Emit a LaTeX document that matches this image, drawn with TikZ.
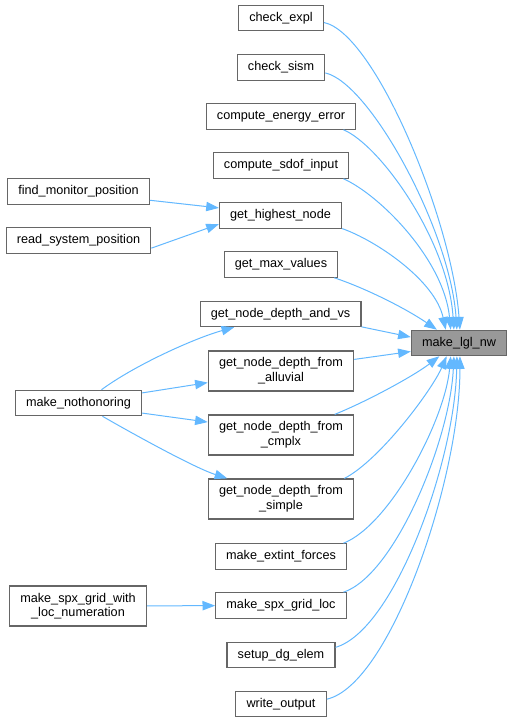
\documentclass[tikz,border=0pt]{standalone}
\usepackage{fontspec}
\setmainfont{Liberation Sans}
\usepackage{xcolor}
\usetikzlibrary{arrows.meta}
\definecolor{callblue}{HTML}{63B8FF}
\definecolor{boxgrey}{HTML}{666666}
\definecolor{mainfill}{HTML}{999999}
\tikzset{
  fnbox/.style={draw=boxgrey, line width=0.9pt, fill=white, inner xsep=8pt, inner ysep=0pt,
    minimum height=19pt, align=center, font=\fontsize{9.5}{11}\selectfont},
  twoline/.style={fnbox, minimum height=30pt},
  fnmain/.style={fnbox, fill=mainfill},
  callarrow/.style={draw=callblue, line width=0.75pt, -{Triangle[length=9.5pt,width=7pt]}}
}

\begin{document}
\begin{tikzpicture}[x=0.75pt,y=-0.75pt]
\useasboundingbox (0,0) rectangle (513,723);

\node[fnbox] (check_expl) at (281,18) {check\_expl};
\node[fnbox] (check_sism) at (281,67.5) {check\_sism};
\node[fnbox] (compute_energy_error) at (281,116.5) {compute\_energy\_error};
\node[fnbox] (compute_sdof_input) at (281,165.5) {compute\_sdof\_input};
\node[fnbox] (find_monitor_position) at (78.5,191.5) {find\_monitor\_position};
\node[fnbox] (get_highest_node) at (280.5,215.5) {get\_highest\_node};
\node[fnbox] (read_system_position) at (78.5,240.5) {read\_system\_position};
\node[fnbox] (get_max_values) at (281,264.5) {get\_max\_values};
\node[fnbox] (get_node_depth_and_vs) at (280.5,314) {get\_node\_depth\_and\_vs};
\node[fnmain] (make_lgl_nw) at (459,343) {make\_lgl\_nw};
\node[twoline] (depth_alluvial) at (281,371) {get\_node\_depth\_from\\\_alluvial};
\node[fnbox] (make_nothonoring) at (78.5,403) {make\_nothonoring};
\node[twoline] (depth_cmplx) at (281,435) {get\_node\_depth\_from\\\_cmplx};
\node[twoline] (depth_simple) at (281,499) {get\_node\_depth\_from\\\_simple};
\node[fnbox] (make_extint_forces) at (281,556.5) {make\_extint\_forces};
\node[twoline] (grid_with_loc) at (78,606) {make\_spx\_grid\_with\\\_loc\_numeration};
\node[fnbox] (make_spx_grid_loc) at (281,605.5) {make\_spx\_grid\_loc};
\node[fnbox] (setup_dg_elem) at (281,655) {setup\_dg\_elem};
\node[fnbox] (write_output) at (281,704) {write\_output};

% callers of make_lgl_nw
\draw[callarrow] (check_expl.-6) .. controls (375,33) and (452,220) .. (make_lgl_nw.86);
\draw[callarrow] (check_sism.-7) .. controls (370,83) and (450,230) .. (make_lgl_nw.99);
\draw[callarrow] (compute_energy_error.-12) .. controls (380,145) and (448,240) .. (make_lgl_nw.111);
\draw[callarrow] (compute_sdof_input.-12) .. controls (380,195) and (444,260) .. (make_lgl_nw.122);
\draw[callarrow] (get_highest_node.-12) .. controls (375,240) and (435,280) .. (make_lgl_nw.135);
\draw[callarrow] (get_max_values.-14) .. controls (365,288) and (405,308) .. (make_lgl_nw.149);
\draw[callarrow] (get_node_depth_and_vs.-9.5) -- (make_lgl_nw.173);
\draw[callarrow] (depth_alluvial.9) -- (make_lgl_nw.190);
\draw[callarrow] (depth_cmplx.21) .. controls (370,400) and (415,375) .. (make_lgl_nw.214);
\draw[callarrow] (depth_simple.18) .. controls (380,460) and (432,390) .. (make_lgl_nw.227);
\draw[callarrow] (make_extint_forces.12) .. controls (390,525) and (445,420) .. (make_lgl_nw.238);
\draw[callarrow] (make_spx_grid_loc.12) .. controls (395,575) and (450,440) .. (make_lgl_nw.249);
\draw[callarrow] (setup_dg_elem.8) .. controls (395,630) and (455,460) .. (make_lgl_nw.261);
\draw[callarrow] (write_output.6) .. controls (390,685) and (460,480) .. (make_lgl_nw.274);

% second level
\draw[callarrow] (find_monitor_position.-7) -- (get_highest_node.173);
\draw[callarrow] (read_system_position.-6) -- (get_highest_node.188);
\draw[callarrow] (make_nothonoring.30) .. controls (135,365) and (195,338) .. (get_node_depth_and_vs.196);
\draw[callarrow] (make_nothonoring.9) -- (depth_alluvial.189);
\draw[callarrow] (make_nothonoring.-9) -- (depth_cmplx.170);
\draw[callarrow] (make_nothonoring.-29) .. controls (135,435) and (195,468) .. (depth_simple.159);
\draw[callarrow] (grid_with_loc) -- (make_spx_grid_loc);
\end{tikzpicture}
\end{document}
